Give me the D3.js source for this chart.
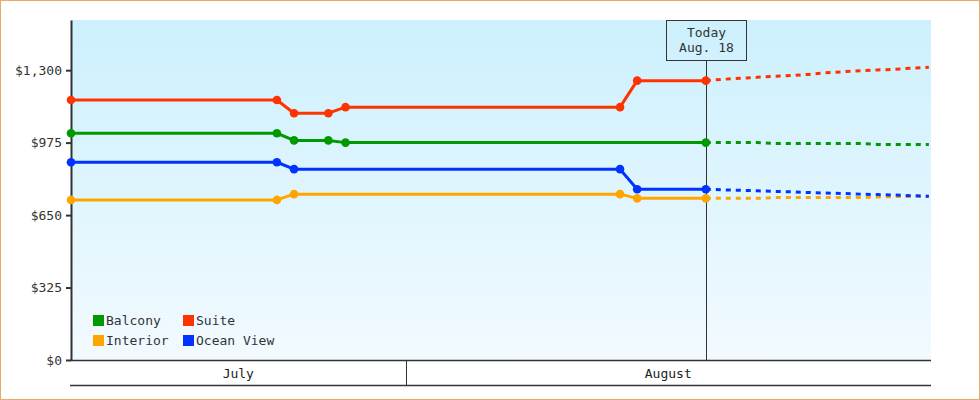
<!DOCTYPE html>
<html>
<head>
<meta charset="utf-8">
<script src="https://cdn.jsdelivr.net/npm/d3@7"></script>
<style>
  body { margin: 0; background: #fff; }
  text { font-family: "DejaVu Sans Mono", monospace; font-size: 13px; fill: #333; }
</style>
</head>
<body>
<div class="canvas"></div>
<script>
/////////////////////////////////
//** DATA **//

const seriesNames = ['Balcony', 'Suite', 'Interior', 'Ocean View'];

// days where a price was recorded (noon of each day)
const historyDays = ['2019-07-12', '2019-07-24', '2019-07-25', '2019-07-27', '2019-07-28', '2019-08-13', '2019-08-14', '2019-08-18'];
// null = no recorded point for that series on that day
const balconyHistory = [1017, 1017, 985, 985, 975, null, null, 975];
const suiteHistory = [1166, 1166, 1107, 1107, 1134, 1134, 1253, 1253];
const interiorHistory = [718, 718, 744, null, null, 744, 725, 725];
const oceanHistory = [887, 887, 856, null, null, 856, 766, 766];

// forecast from today to end of august
const forecastDays = ['2019-08-18', '2019-08-19', '2019-08-20', '2019-08-21', '2019-08-22', '2019-08-23', '2019-08-24',
  '2019-08-25', '2019-08-26', '2019-08-27', '2019-08-28', '2019-08-29', '2019-08-30', '2019-08-31'];
const balconyForecast = [975, 975, 975, 975, 971, 971, 971, 971, 971, 971, 967, 967, 967, 967];
const suiteForecast = [1253, 1259, 1264, 1268, 1273, 1276, 1281, 1288, 1293, 1297, 1301, 1304, 1309, 1313];
const interiorForecast = [725, 725, 725, 725, 729, 729, 729, 729, 729, 729, 731, 733, 734, 734];
const oceanForecast = [766, 763, 761, 759, 756, 754, 751, 749, 747, 744, 742, 740, 737, 734];

const yTicks = [0, 325, 650, 975, 1300];
const months = ['July', 'August'];
const todayLabel = ['Today', 'Aug. 18'];

/////////////////////////////////
//** DIMENSIONS **//

const dims = { width: 980, height: 400 };
const plot = { left: 71, right: 931, top: 20, bottom: 360 };
const colours = ['#009a00', '#ff3300', '#ffa500', '#0033ff'];

const parseDay = s => { const d = d3.timeParse('%Y-%m-%d')(s); d.setHours(12); return d; };

const history = [balconyHistory, suiteHistory, interiorHistory, oceanHistory];
const forecast = [balconyForecast, suiteForecast, interiorForecast, oceanForecast];

/////////////////////////////////
//** SVG CONTAINER **//

const svg = d3.select('.canvas')
  .append('svg')
  .attr('width', dims.width)
  .attr('height', dims.height);

// page border
svg.append('rect')
  .attr('x', 0.5).attr('y', 0.5)
  .attr('width', dims.width - 1).attr('height', dims.height - 1)
  .attr('fill', '#fff')
  .attr('stroke', '#e8aa66');

const grad = svg.append('defs').append('linearGradient')
  .attr('id', 'bg').attr('x1', 0).attr('y1', 0).attr('x2', 0).attr('y2', 1);
grad.append('stop').attr('offset', '0%').attr('stop-color', '#ccf0fd');
grad.append('stop').attr('offset', '100%').attr('stop-color', '#f2faff');

svg.append('rect')
  .attr('x', plot.left).attr('y', plot.top)
  .attr('width', plot.right - plot.left).attr('height', plot.bottom - plot.top)
  .attr('fill', 'url(#bg)');

/////////////////////////////////
//** SCALES **//

const x = d3.scaleTime()
  .domain([new Date(2019, 6, 12, 12), new Date(2019, 7, 31, 15)])
  .range([plot.left, plot.right]);

const y = d3.scaleLinear()
  .domain([0, 1525])
  .range([plot.bottom, plot.top]);

/////////////////////////////////
//** AXES **//

const yAxis = d3.axisLeft(y)
  .tickValues(yTicks)
  .tickSize(5)
  .tickSizeOuter(0)
  .tickPadding(4)
  .tickFormat(d => '$' + d3.format(',')(d));

const yg = svg.append('g')
  .attr('transform', `translate(${plot.left}, 0)`)
  .call(yAxis);
yg.select('.domain').attr('stroke', '#333').attr('stroke-width', 2);
yg.selectAll('.tick line').attr('stroke', '#333').attr('stroke-width', 2);
yg.selectAll('.tick text').attr('font-family', '"DejaVu Sans Mono", monospace').attr('font-size', 13).attr('fill', '#333');

// month bands under the plot
const monthStarts = [x.domain()[0], new Date(2019, 7, 1), x.domain()[1]];
const bandX = monthStarts.map(d => Math.max(plot.left, Math.min(plot.right, x(d))));

const xg = svg.append('g');
xg.append('line')
  .attr('x1', plot.left - 1).attr('x2', plot.right)
  .attr('y1', plot.bottom + 0.5).attr('y2', plot.bottom + 0.5)
  .attr('stroke', '#333').attr('stroke-width', 1.5);
xg.append('line')
  .attr('x1', plot.left - 1).attr('x2', plot.right)
  .attr('y1', 385.5).attr('y2', 385.5)
  .attr('stroke', '#333').attr('stroke-width', 1.5);
xg.selectAll('.sep')
  .data(bandX.slice(1, -1))
  .enter().append('line')
  .attr('class', 'sep')
  .attr('x1', d => Math.round(d) + 0.5).attr('x2', d => Math.round(d) + 0.5)
  .attr('y1', plot.bottom).attr('y2', 385)
  .attr('stroke', '#333');
xg.selectAll('.month')
  .data(months)
  .enter().append('text')
  .attr('class', 'month')
  .attr('x', (d, i) => (bandX[i] + bandX[i + 1]) / 2)
  .attr('y', 378)
  .attr('text-anchor', 'middle')
  .style('fill', '#222')
  .text(d => d);

/////////////////////////////////
//** TODAY MARKER **//

const todayX = Math.round(x(parseDay(historyDays[historyDays.length - 1]))) + 0.5;
svg.append('line')
  .attr('x1', todayX).attr('x2', todayX)
  .attr('y1', 60).attr('y2', plot.bottom)
  .attr('stroke', '#333');
svg.append('rect')
  .attr('x', todayX - 40).attr('y', 20.5)
  .attr('width', 80).attr('height', 40)
  .attr('fill', 'none')
  .attr('stroke', '#333');
svg.selectAll('.today')
  .data(todayLabel)
  .enter().append('text')
  .attr('class', 'today')
  .attr('x', todayX)
  .attr('y', (d, i) => 37 + i * 15)
  .attr('text-anchor', 'middle')
  .text(d => d);

/////////////////////////////////
//** LINES **//

const line = d3.line()
  .defined(d => d.v != null)
  .x(d => x(d.date))
  .y(d => y(d.v));

seriesNames.forEach((name, i) => {
  const past = historyDays.map((d, j) => ({ date: parseDay(d), v: history[i][j] }))
    .filter(d => d.v != null);
  const future = forecastDays.map((d, j) => ({ date: parseDay(d), v: forecast[i][j] }));

  const g = svg.append('g').attr('class', 'series');

  g.append('path')
    .datum(future)
    .attr('d', line)
    .attr('fill', 'none')
    .attr('stroke', colours[i])
    .attr('stroke-width', 3)
    .attr('stroke-dasharray', '5,5');

  g.append('path')
    .datum(past)
    .attr('d', line)
    .attr('fill', 'none')
    .attr('stroke', colours[i])
    .attr('stroke-width', 3)
    .attr('stroke-linejoin', 'round');

  g.selectAll('circle')
    .data(past)
    .enter().append('circle')
    .attr('cx', d => x(d.date))
    .attr('cy', d => y(d.v))
    .attr('r', 4.3)
    .attr('fill', colours[i]);
});

/////////////////////////////////
//** LEGEND **//

const legend = svg.append('g').attr('transform', 'translate(93, 315)');
const items = legend.selectAll('g')
  .data(seriesNames)
  .enter().append('g')
  .attr('transform', (d, i) => `translate(${(i % 2) * 90}, ${Math.floor(i / 2) * 20})`);
items.append('rect')
  .attr('width', 11).attr('height', 11)
  .attr('fill', (d, i) => colours[i]);
items.append('text')
  .attr('x', 13).attr('y', 10)
  .text(d => d);
</script>
</body>
</html>
